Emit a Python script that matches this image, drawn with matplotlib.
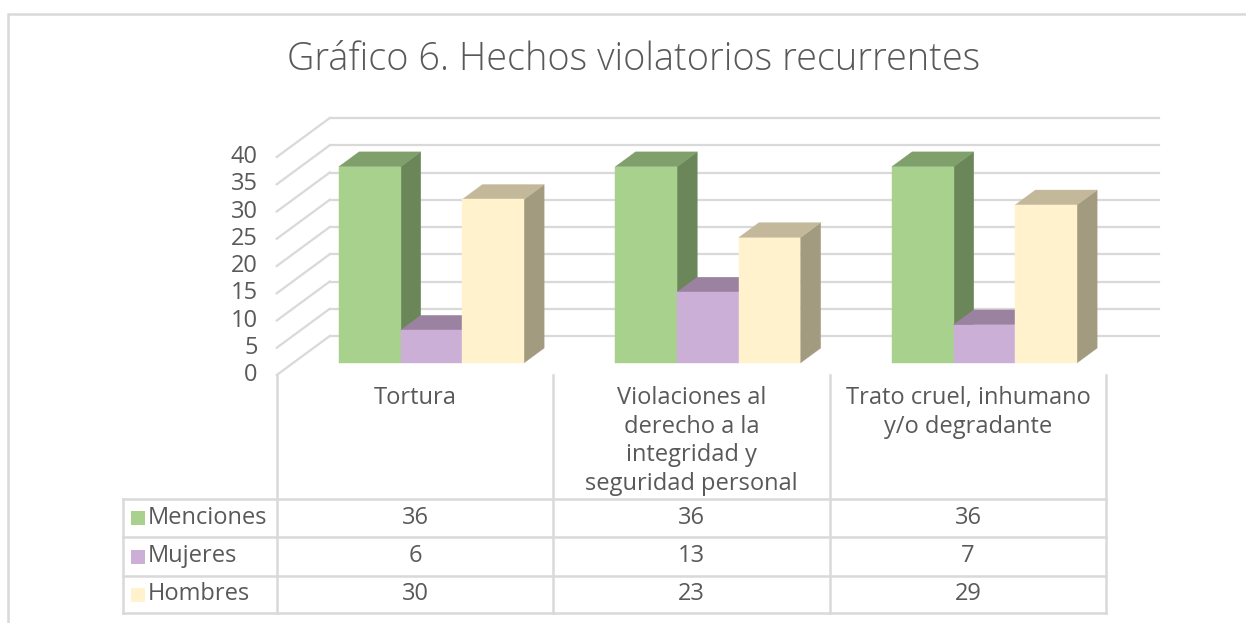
import matplotlib
matplotlib.use('Agg')
import matplotlib.pyplot as plt
from matplotlib.patches import Polygon, Rectangle
from matplotlib.lines import Line2D

# ---------------- data ----------------
categories = ["Tortura",
              "Violaciones al\nderecho a la\nintegridad y\nseguridad personal",
              "Trato cruel, inhumano\ny/o degradante"]
series_names = ["Menciones", "Mujeres", "Hombres"]
menciones = [36, 36, 36]
mujeres = [6, 13, 7]
hombres = [30, 23, 29]
yticks = [0, 5, 10, 15, 20, 25, 30, 35, 40]
title = "Gráfico 6. Hechos violatorios recurrentes"

# ---------------- style ----------------
front_cols = ['#A9D18E', '#CCAFD7', '#FFF2CC']
top_cols = ['#80A06B', '#9A82A0', '#C3B99A']
side_cols = ['#6B8659', '#8E7494', '#A39B80']
grid_col = '#D9D9D9'
text_col = '#595959'
FONT = ['Open Sans', 'DejaVu Sans']
FS = 17

W, H = 1246, 623
fig = plt.figure(figsize=(W / 100, H / 100), dpi=100)
ax = fig.add_axes([0, 0, 1, 1])

# axis scale: category units horizontally, value units vertically
PX_CAT = 276.5       # pixels per category
PX_VAL = 5.45        # pixels per value unit
X0_PX, Y0_PX = 415, 375   # pixel of category 0, value 0 (front plane)
ax.set_xlim((0 - X0_PX) / PX_CAT, (W - X0_PX) / PX_CAT)
ax.set_ylim((Y0_PX - H) / PX_VAL, Y0_PX / PX_VAL)
ax.axis('off')


def px_to_x(px):
    return (px - X0_PX) / PX_CAT


def px_to_y(py):
    return (Y0_PX - py) / PX_VAL


# depth offset (full floor depth)
DX = 53 / PX_CAT
DY = 39 / PX_VAL
n = len(categories)
xl, xr = -0.5, n - 0.5

# walls: back gridlines and side wall lines
for v in yticks:
    ax.add_line(Line2D([xl + DX, xr + DX], [v + DY, v + DY], color=grid_col, lw=1.6, zorder=1))
    ax.add_line(Line2D([xl, xl + DX], [v, v + DY], color=grid_col, lw=1.6, zorder=1))
    ax.text(xl - 19 / PX_CAT, v, str(v), ha='right', va='center', fontsize=FS,
            color=text_col, family=FONT)

# bars
d0, d1 = 0.31, 0.69
bw = 61.7 / PX_CAT
values = [menciones, mujeres, hombres]
nser = len(values)
z = 2
for i in range(n):
    for j in range(nser):
        v = values[j][i]
        left = i - nser * bw / 2 + j * bw + d0 * DX
        right = left + bw
        yb = d0 * DY
        yt = v + d0 * DY
        ddx = (d1 - d0) * DX
        ddy = (d1 - d0) * DY
        # side face
        ax.add_patch(Polygon([(right, yb), (right + ddx, yb + ddy), (right + ddx, yt + ddy), (right, yt)],
                             closed=True, facecolor=side_cols[j], edgecolor=side_cols[j], lw=0.3, zorder=z))
        # top face
        ax.add_patch(Polygon([(left, yt), (left + ddx, yt + ddy), (right + ddx, yt + ddy), (right, yt)],
                             closed=True, facecolor=top_cols[j], edgecolor=top_cols[j], lw=0.3, zorder=z))
        # front face
        ax.add_patch(Rectangle((left, yb), bw, v, facecolor=front_cols[j], edgecolor=front_cols[j],
                               lw=0.3, zorder=z + 0.5))
        z += 1

# category labels
for i, c in enumerate(categories):
    ax.text(i, px_to_y(386), c, ha='center', va='top', fontsize=FS, color=text_col,
            family=FONT, linespacing=1.25)

# data table
row_px = [499, 537, 576, 613]
tab_left_px = 123
for yp in row_px:
    ax.add_line(Line2D([px_to_x(tab_left_px), xr], [px_to_y(yp)] * 2, color=grid_col, lw=1.8, zorder=1))
ax.add_line(Line2D([px_to_x(tab_left_px)] * 2, [px_to_y(row_px[0]), px_to_y(row_px[-1])],
                   color=grid_col, lw=1.8, zorder=1))
for k in range(n + 1):
    ax.add_line(Line2D([xl + k] * 2, [px_to_y(Y0_PX), px_to_y(row_px[-1])],
                       color=grid_col, lw=1.8, zorder=1))

for j, name in enumerate(series_names):
    yc = px_to_y((row_px[j] + row_px[j + 1]) / 2)
    ax.add_patch(Rectangle((px_to_x(131), yc - 7 / PX_VAL), 14 / PX_CAT, 14 / PX_VAL,
                           facecolor=front_cols[j], edgecolor='none', zorder=3))
    ax.text(px_to_x(148), yc, name, ha='left', va='center', fontsize=FS, color=text_col, family=FONT)
    for i in range(n):
        ax.text(i, yc, str(values[j][i]), ha='center', va='center', fontsize=FS,
                color=text_col, family=FONT)

# title
fig.text(634 / W, 1 - 60 / H, title, ha='center', va='center', fontsize=27.3,
         color=text_col, family=FONT, fontweight=300)

# chart border
fig.add_artist(Rectangle((8 / W, -0.1), 1.2, 1 - 14 / H + 0.1, transform=fig.transFigure,
                         facecolor='none', edgecolor=grid_col, lw=1.8))

fig.savefig('out.png', dpi=100)
